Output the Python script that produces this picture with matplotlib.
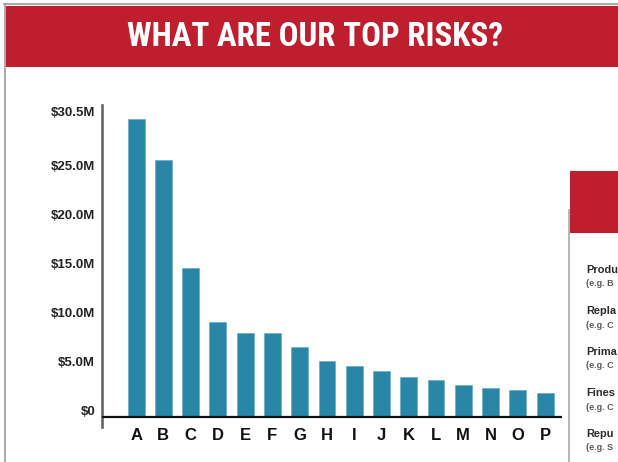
import matplotlib
matplotlib.use("Agg")
import matplotlib.pyplot as plt
from matplotlib import font_manager
from matplotlib.patches import Rectangle
from matplotlib.lines import Line2D
from matplotlib.transforms import ScaledTranslation

# ---- data ----
categories = list("ABCDEFGHIJKLMNOP")
values_musd = [30.4, 26.2, 15.2, 9.7, 8.6, 8.6, 7.1, 5.7, 5.2, 4.7, 4.1, 3.8, 3.3, 3.0, 2.8, 2.5]
ytick_values = [0, 5, 10, 15, 20, 25, 30.5]
ytick_labels = ["$0", "$5.0M", "$10.0M", "$15.0M", "$20.0M", "$25.0M", "$30.5M"]
title_text = "WHAT ARE OUR TOP RISKS?"
panel_rows = ["Produ", "Repla", "Prima", "Fines", "Repu"]
panel_subs = ["(e.g. B", "(e.g. C", "(e.g. C", "(e.g. C", "(e.g. S"]

RED = "#BE1E2D"
BLUE = "#2986A7"

W, H = 618, 462
DPI = 100
fig = plt.figure(figsize=(W / DPI, H / DPI), dpi=DPI)
fig.patch.set_facecolor("white")

def fx(px):
    return px / W

def fy(py):
    return 1 - py / H

avail = {f.name for f in font_manager.fontManager.ttflist}
base_font = "Liberation Sans" if "Liberation Sans" in avail else "DejaVu Sans"
cond_font = base_font
for cand in ["Roboto Condensed", "Liberation Sans Narrow", "DejaVu Sans Condensed", "Open Sans Condensed"]:
    if cand in avail:
        cond_font = cand
        break

# ---- frame & banner ----
fig.add_artist(Line2D([fx(4), fx(618)], [fy(4), fy(4)], color="#9a9a9a", lw=1.2))
fig.add_artist(Line2D([fx(5), fx(5)], [fy(4), fy(462)], color="#9a9a9a", lw=1.2))
fig.add_artist(Rectangle((fx(5.5), fy(66.5)), fx(618 - 5.5), (66.5 - 6) / H,
                         facecolor=RED, edgecolor="none"))
t = fig.text(fx(315.5), fy(37), title_text, color="white", fontweight="bold",
             fontsize=22, family=cond_font, ha="center", va="center")
fig.canvas.draw()
bb = t.get_window_extent()
if bb.width > 0:
    t.set_fontsize(22 * 374.0 / bb.width)

# ---- right panel (partially cropped) ----
fig.add_artist(Line2D([fx(569.3), fx(569.3)], [fy(210), fy(462)], color="#a8a8a8", lw=1.2))
fig.add_artist(Rectangle((fx(570), fy(233)), fx(48), (233 - 171) / H,
                         facecolor=RED, edgecolor="none"))
row_y = [270, 311, 352, 393, 434]
for ry, r, s in zip(row_y, panel_rows, panel_subs):
    fig.text(fx(586.5), fy(ry), r, fontsize=7.9, fontweight="bold", color="#2a2a2a",
             family=base_font, ha="left", va="center")
    fig.text(fx(586.5), fy(ry + 14), s, fontsize=6.5, fontweight="bold", color="#5a5a5a",
             family=base_font, ha="left", va="center")

# ---- bar chart ----
ax = fig.add_axes([fx(102), 35 / H, (562 - 102) / W, (427 - 105) / H])
x = list(range(len(categories)))
ax.bar(x, values_musd, width=0.62, color=BLUE, edgecolor="#5aa6c2", linewidth=0.4, zorder=2)
ax.set_xlim(-1.25, 15.62)
ax.set_ylim(-1.02, 31.84)
ax.axhline(0, color="#111111", lw=1.6, zorder=3)

for side in ["top", "right", "bottom"]:
    ax.spines[side].set_visible(False)
ax.spines["left"].set_color("#666666")
ax.spines["left"].set_linewidth(1.9)

ax.set_xticks(x)
ax.set_xticklabels(categories, fontsize=12, fontweight="bold", family=base_font, color="#111111")
ax.tick_params(axis="x", length=0, pad=1)
ax.set_yticks(ytick_values)
ax.set_yticklabels(ytick_labels, fontsize=9.5, fontweight="bold", family=base_font, color="#222222")
ax.tick_params(axis="y", length=0, pad=5)
off = ScaledTranslation(0, 7 / DPI, fig.dpi_scale_trans)
for lab in ax.get_yticklabels():
    lab.set_transform(lab.get_transform() + off)

fig.savefig("out.png", dpi=DPI)
